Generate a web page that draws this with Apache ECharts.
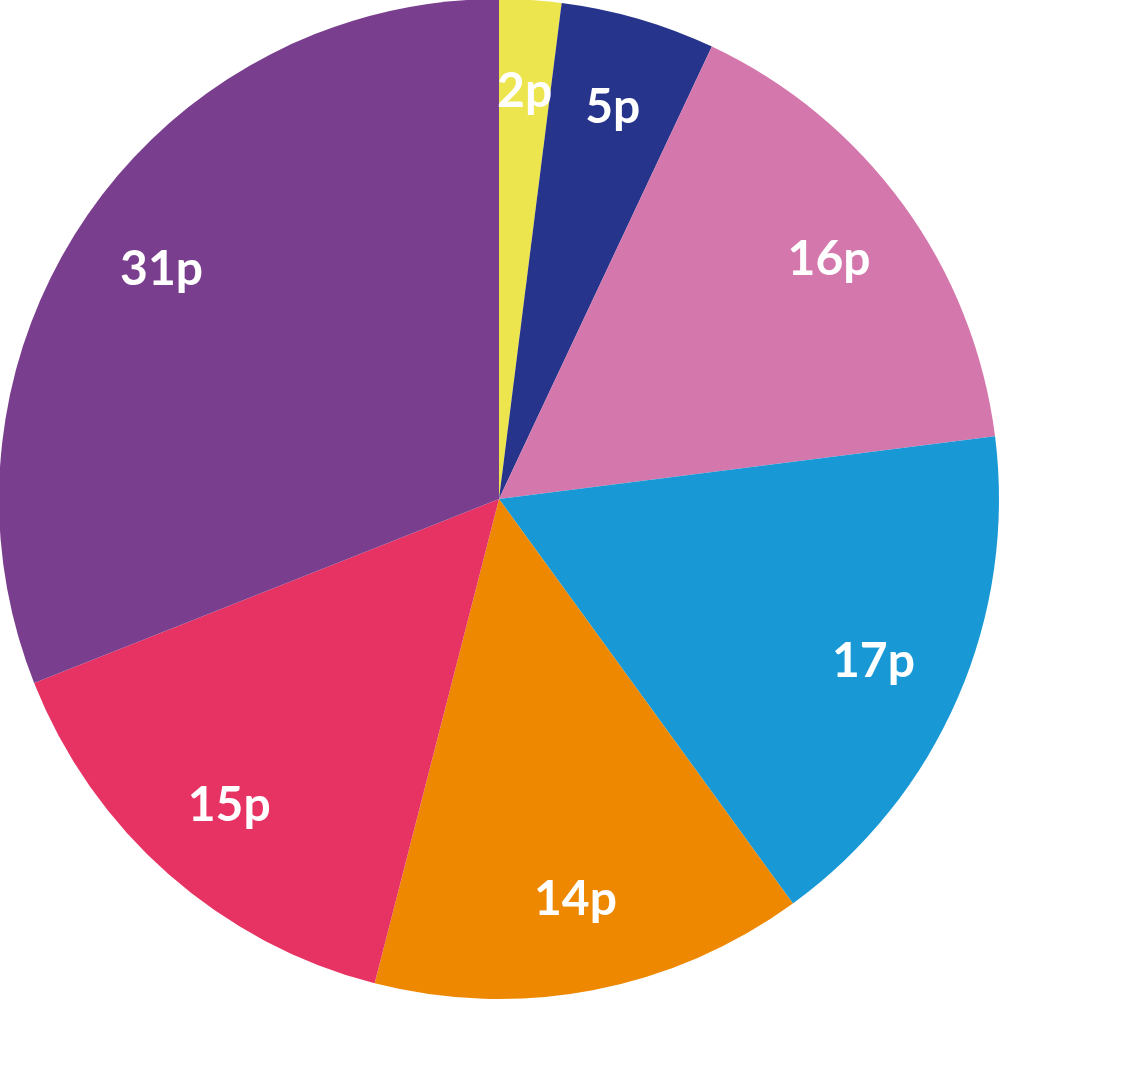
<!DOCTYPE html>
<html>
<head>
<meta charset="utf-8">
<script src="https://cdn.jsdelivr.net/npm/echarts@6/dist/echarts.min.js"></script>
<style>
html, body { margin: 0; padding: 0; background: #fff; }
#chart { width: 1132px; height: 1071px; }
</style>
</head>
<body>
<div id="chart"></div>
<script>
// slices clockwise from 12 o'clock
const labels = ['2p', '5p', '16p', '17p', '14p', '15p', '31p'];
const values = [2, 5, 16, 17, 14, 15, 31];
const colours = ['#ede54e', '#27348b', '#d477ac', '#1898d5', '#ee8800', '#e73363', '#7a3e8e'];

let chart = echarts.init(document.getElementById('chart'), null, { renderer: 'canvas' });

const slices = labels.map((name, i) => ({
    name: name,
    value: values[i],
    itemStyle: { color: colours[i] }
}));

chart.setOption({
    animation: false,
    series: [
        {
            type: 'pie',
            center: [499, 499],
            radius: 500,
            startAngle: 90,
            clockwise: true,
            silent: true,
            label: { show: false },
            labelLine: { show: false },
            itemStyle: { borderWidth: 0 },
            data: slices
        },
        {
            // ring only used to place the labels at ~80% of the radius
            type: 'pie',
            center: [499, 499],
            radius: [310, 500],
            startAngle: 90,
            clockwise: true,
            silent: true,
            itemStyle: { color: 'rgba(0,0,0,0)', borderWidth: 0 },
            label: {
                show: true,
                position: 'inside',
                formatter: '{b}',
                color: '#fff',
                fontFamily: 'Lato',
                fontWeight: 'bold',
                fontSize: 48
            },
            labelLine: { show: false },
            data: labels.map((name, i) => ({ name: name, value: values[i] }))
        }
    ]
});
</script>
</body>
</html>
